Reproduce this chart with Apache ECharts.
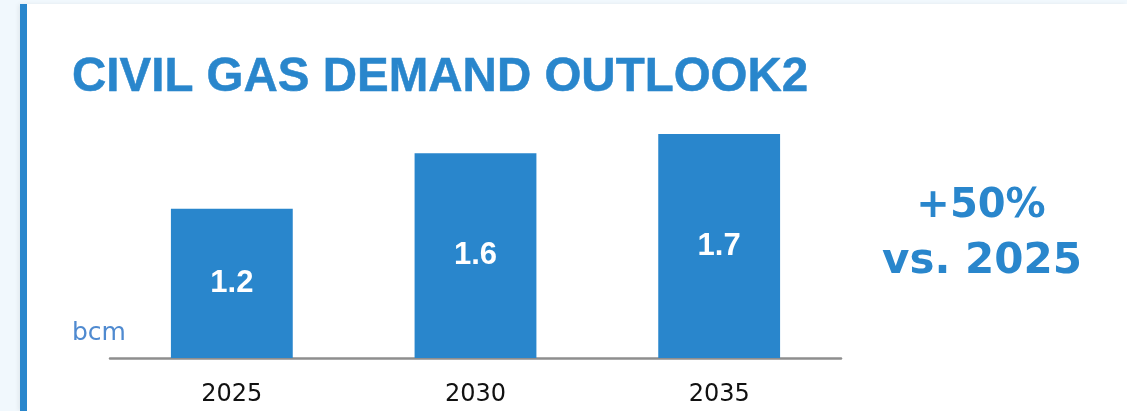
<!DOCTYPE html>
<html><head><meta charset="utf-8">
<script src="https://cdn.jsdelivr.net/npm/echarts@6/dist/echarts.min.js"></script>
<style>
html,body{margin:0;padding:0;background:#f1f8fd;width:1127px;height:411px;overflow:hidden}
#card{position:absolute;left:20px;top:4px;width:1107px;height:407px;background:#fff;border-left:7px solid #2986cc;box-sizing:border-box;box-shadow:-2px 0 4px rgba(0,0,0,0.06)}
#chart{position:absolute;left:0;top:0;width:1127px;height:411px}
</style></head><body>
<div id="card"></div><div id="chart"></div>
<script>
const titleText = 'CIVIL GAS DEMAND OUTLOOK2';
const categories = ['2025', '2030', '2035'];
const demand = [1.16, 1.59, 1.74];
const unitLabel = 'bcm';
const highlightLines = ['+50%', 'vs. 2025'];

const blue = '#2986cc';
const chart = echarts.init(document.getElementById('chart'), null, {renderer: 'canvas'});
chart.setOption({
  backgroundColor: 'transparent',
  animation: false,
  title: {
    text: titleText,
    left: 72,
    top: 54,
    padding: 0,
    textStyle: {fontFamily: 'Liberation Sans', fontWeight: 'bold', fontSize: 47.5, color: blue,
      textBorderColor: blue, textBorderWidth: 0.5}
  },
  grid: {left: 110, right: 286, top: 100.5, bottom: 53},
  xAxis: {
    type: 'category',
    data: categories,
    axisLine: {lineStyle: {color: '#8e8e8e', width: 2.5}},
    axisTick: {show: false},
    axisLabel: {color: '#111', fontFamily: 'DejaVu Sans', fontSize: 24, margin: 25}
  },
  yAxis: {
    type: 'value', min: 0, max: 2,
    show: false
  },
  series: [{
    type: 'bar',
    data: demand,
    barWidth: '50%',
    itemStyle: {color: blue},
    label: {
      show: true, position: 'inside',
      color: '#fff', fontFamily: 'Liberation Sans', fontWeight: 'bold', fontSize: 31,
      formatter: p => p.value.toFixed(1)
    }
  }],
  graphic: [
    {type: 'text', left: 72, top: 321, style: {text: unitLabel, fill: '#4f8ad0', font: '25px "DejaVu Sans"'}},
    {type: 'text', x: 981, y: 207, style: {text: highlightLines[0], fill: blue, font: 'bold 40px "DejaVu Sans"', align: 'center', verticalAlign: 'middle'}},
    {type: 'text', x: 982, y: 262, style: {text: highlightLines[1], fill: blue, font: 'bold 42px "DejaVu Sans"', align: 'center', verticalAlign: 'middle'}}
  ]
});
</script>
</body></html>
